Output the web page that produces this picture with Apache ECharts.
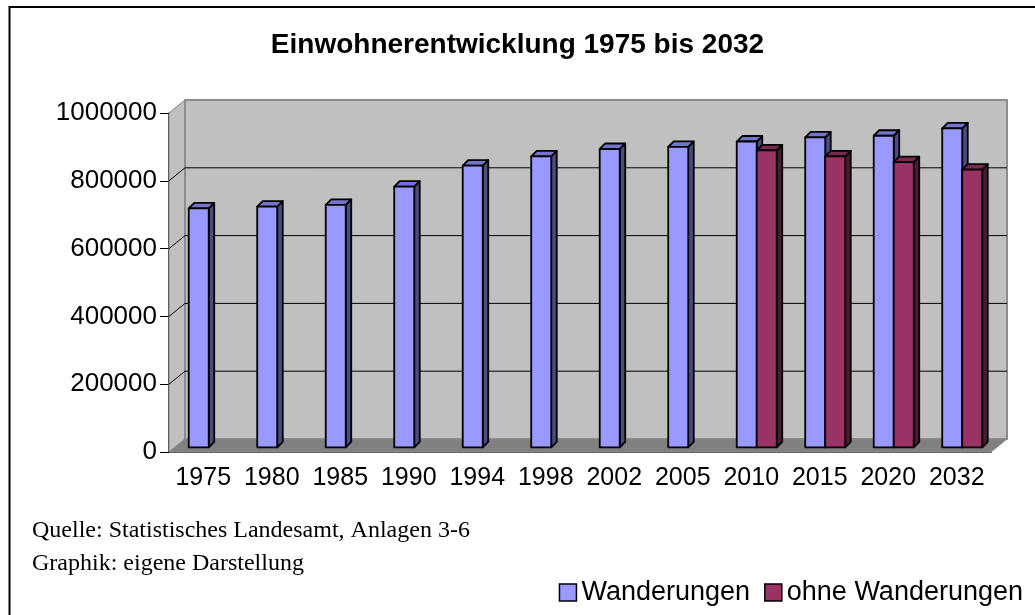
<!DOCTYPE html>
<html>
<head>
<meta charset="utf-8">
<script src="https://cdn.jsdelivr.net/npm/echarts@6/dist/echarts.min.js"></script>
<style>
html, body { margin: 0; padding: 0; background: #fff; }
#chart { width: 1035px; height: 615px; }
</style>
</head>
<body>
<div id="chart"></div>
<script>
/*
 * Einwohnerentwicklung 1975 bis 2032, Excel style 3D columns
 */

var YEARS = ['1975', '1980', '1985', '1990', '1994', '1998',
             '2002', '2005', '2010', '2015', '2020', '2032'];
var WITH_MIGRATION = [704500, 710000, 715000, 769000, 831000, 858000,
                      880000, 886000, 902000, 914000, 919000, 941000];
var WITHOUT_MIGRATION = [null, null, null, null, null, null,
                         null, null, 876000, 858000, 841000, 819000];
var Y_GRID = [200000, 400000, 600000, 800000];
var SERIES_NAMES = ['Wanderungen', 'ohne Wanderungen'];
var TITLE = 'Einwohnerentwicklung 1975 bis 2032';
var SOURCE_LINES = ['Quelle: Statistisches Landesamt, Anlagen 3-6',
                    'Graphik: eigene Darstellung'];

var CHART = {
    WALL_DX: 16,
    WALL_DY: -13,
    BAR_DX: 5.5,
    BAR_DY: -5.5,
    BAR_LIFT: -4.7,
    SANS: '"Liberation Sans", Arial, sans-serif',
    SERIF: '"Liberation Serif", "Times New Roman", serif',
};

var COLORS = [
    { front: '#9999FF', top: '#7474CC', side: '#4C4C80' },
    { front: '#993366', top: '#7A2952', side: '#4D1A33' },
];

function to_points(list)
{
    var data = [];
    for (var i = 0; i < list.length; i++) {
        if (list[i] != null)
            data.push([i, list[i]]);
    }
    return data;
}

function walls_render(params, api)
{
    var cs = params.coordSys;
    var x0 = cs.x, x1 = cs.x + cs.width;
    var ytop = api.coord([0, 1000000])[1];
    var ybot = api.coord([0, 0])[1];
    var dx = CHART.WALL_DX, dy = CHART.WALL_DY;
    var children = [];

    // left side wall
    children.push({
        type: 'polygon',
        shape: { points: [[x0, ytop], [x0 + dx, ytop + dy],
                          [x0 + dx, ybot + dy], [x0, ybot]] },
        style: { fill: '#C0C0C0', stroke: '#808080', lineWidth: 1 }
    });
    // back wall
    children.push({
        type: 'rect',
        shape: { x: x0 + dx, y: ytop + dy, width: x1 - x0, height: ybot - ytop },
        style: { fill: '#C0C0C0', stroke: '#8C8C8C', lineWidth: 2 }
    });
    // floor
    children.push({
        type: 'polygon',
        shape: { points: [[x0, ybot], [x0 + dx, ybot + dy],
                          [x1 + dx, ybot + dy], [x1, ybot]] },
        style: { fill: '#808080', stroke: '#8C8C8C', lineWidth: 1 }
    });
    // grid lines on the side and back wall
    for (var i = 0; i < Y_GRID.length; i++) {
        var y = api.coord([0, Y_GRID[i]])[1];
        children.push({
            type: 'polyline',
            shape: { points: [[x0, y], [x0 + dx, y + dy], [x1 + dx, y + dy]] },
            style: { fill: null, stroke: '#000', lineWidth: 1 }
        });
    }
    return { type: 'group', children: children };
}

function bar_renderer(slot)
{
    var c = COLORS[slot];
    return function(params, api) {
        var i = api.value(0);
        var v = api.value(1);
        var top = api.coord([i, v]);
        var base = api.coord([i, 0]);
        var bw = api.size([1, 0])[0];
        var w = bw * 0.292;
        var xl = top[0] - bw * 0.212 + slot * w;
        var xr = xl + w;
        var yt = top[1] + CHART.BAR_LIFT;
        var yb = base[1] + CHART.BAR_LIFT;
        var dx = CHART.BAR_DX, dy = CHART.BAR_DY;
        var line = { stroke: '#000', lineWidth: 1.8, lineJoin: 'round' };
        return {
            type: 'group',
            children: [
                {
                    type: 'polygon',
                    shape: { points: [[xr, yt], [xr + dx, yt + dy],
                                      [xr + dx, yb + dy], [xr, yb]] },
                    style: Object.assign({ fill: c.side }, line)
                },
                {
                    type: 'polygon',
                    shape: { points: [[xl, yt], [xr, yt],
                                      [xr + dx, yt + dy], [xl + dx, yt + dy]] },
                    style: Object.assign({ fill: c.top }, line)
                },
                {
                    type: 'rect',
                    shape: { x: xl, y: yt, width: w, height: yb - yt },
                    style: Object.assign({ fill: c.front }, line)
                }
            ]
        };
    };
}

var mychart = echarts.init(document.getElementById('chart'), null, { renderer: 'canvas' });

var option = {
    animation: false,
    backgroundColor: '#fff',
    title: {
        text: TITLE,
        left: 'center',
        top: 26,
        textStyle: {
            fontFamily: CHART.SANS,
            fontSize: 28,
            fontWeight: 'bold',
            color: '#000',
        },
    },
    legend: {
        right: 7,
        top: 574,
        icon: 'rect',
        itemWidth: 17,
        itemHeight: 17,
        itemGap: 14,
        selectedMode: false,
        itemStyle: { borderColor: '#000', borderWidth: 1.5 },
        textStyle: { fontFamily: CHART.SANS, fontSize: 27, color: '#000' },
        data: [
            { name: SERIES_NAMES[0], itemStyle: { color: COLORS[0].front } },
            { name: SERIES_NAMES[1], itemStyle: { color: COLORS[1].front } },
        ],
    },
    grid: {
        left: 169,
        right: 44,
        top: 113,
        bottom: 163,
        containLabel: false,
    },
    xAxis: {
        type: 'category',
        data: YEARS,
        boundaryGap: true,
        axisLine: { lineStyle: { color: '#000', width: 1.5 } },
        axisTick: { interval: 0, length: 7, lineStyle: { color: '#000' } },
        axisLabel: {
            interval: 0,
            margin: 14,
            fontFamily: CHART.SANS,
            fontSize: 25,
            color: '#000',
        },
        splitLine: { show: false },
    },
    yAxis: {
        type: 'value',
        min: 0,
        max: 1000000,
        interval: 200000,
        axisLine: { show: true, lineStyle: { color: '#000', width: 1.5 } },
        axisTick: { show: true, length: 9, lineStyle: { color: '#000' } },
        axisLabel: {
            margin: 12,
            fontFamily: CHART.SANS,
            fontSize: 26,
            color: '#000',
            formatter: function(v) { return String(v); },
        },
        splitLine: { show: false },
    },
    graphic: [
        {
            type: 'rect',
            z: -10,
            shape: { x: 9.5, y: 7, width: 1100, height: 700 },
            style: { fill: null, stroke: '#000', lineWidth: 2 },
        },
        {
            type: 'text',
            left: 32,
            top: 519,
            style: {
                text: SOURCE_LINES[0],
                fontFamily: CHART.SERIF,
                fontSize: 24,
                fill: '#000',
            },
        },
        {
            type: 'text',
            left: 32,
            top: 552,
            style: {
                text: SOURCE_LINES[1],
                fontFamily: CHART.SERIF,
                fontSize: 24,
                fill: '#000',
            },
        },
    ],
    series: [
        {
            name: 'walls',
            type: 'custom',
            silent: true,
            z: 1,
            renderItem: walls_render,
            data: [[0, 0]],
            encode: { x: 0, y: 1 },
        },
        {
            name: SERIES_NAMES[0],
            type: 'custom',
            z: 2,
            itemStyle: { color: COLORS[0].front },
            renderItem: bar_renderer(0),
            data: to_points(WITH_MIGRATION),
            encode: { x: 0, y: 1 },
        },
        {
            name: SERIES_NAMES[1],
            type: 'custom',
            z: 3,
            itemStyle: { color: COLORS[1].front },
            renderItem: bar_renderer(1),
            data: to_points(WITHOUT_MIGRATION),
            encode: { x: 0, y: 1 },
        },
    ],
};

mychart.setOption(option);
</script>
</body>
</html>
